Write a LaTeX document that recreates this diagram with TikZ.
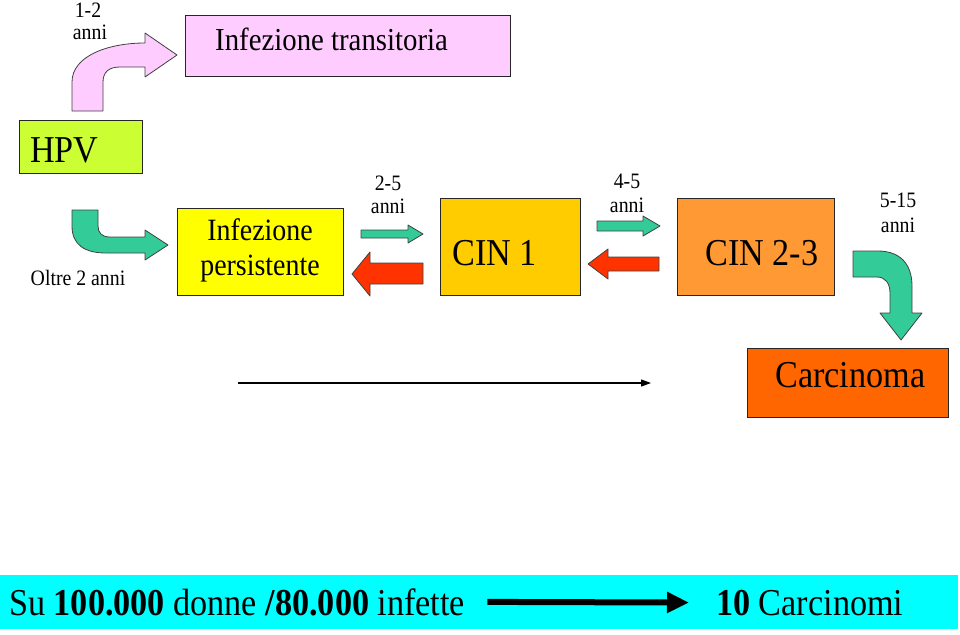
\documentclass[tikz,border=0pt]{standalone}
\usepackage{fontspec}
\setmainfont{Liberation Serif}[FakeStretch=0.9]
\usetikzlibrary{arrows.meta}
\definecolor{pinkf}{HTML}{FFCCFF}
\definecolor{limef}{HTML}{CCFF33}
\definecolor{yellowf}{HTML}{FFFF00}
\definecolor{cinone}{HTML}{FFCC00}
\definecolor{cintwo}{HTML}{FF9933}
\definecolor{carcf}{HTML}{FF6600}
\definecolor{greenf}{HTML}{33CC99}
\definecolor{redf}{HTML}{FF3300}
\definecolor{cyanf}{HTML}{00FFFF}
\tikzset{
  box/.style={draw=black!85, line width=1.2pt, inner sep=0pt, anchor=north west},
  blk/.style={draw=black!75, line width=0.8pt, line join=round},
  small/.style={inner sep=0pt, anchor=base, font=\fontsize{22}{26}\selectfont},
  big/.style={inner sep=0pt, anchor=base west, font=\fontsize{38}{44}\selectfont},
}
\begin{document}
\begin{tikzpicture}[x=1pt,y=-1pt]
\useasboundingbox (0,0) rectangle (960,634);
% boxes
\node[box, fill=pinkf, minimum width=325pt, minimum height=61pt] (trans) at (185,15) {};
\node[box, fill=limef, minimum width=123pt, minimum height=53pt] (hpv) at (19,120) {};
\node[box, fill=yellowf, minimum width=166pt, minimum height=87pt] (pers) at (177,208) {};
\node[box, fill=cinone, minimum width=140pt, minimum height=97pt] (cin1) at (440,198) {};
\node[box, fill=cintwo, minimum width=157pt, minimum height=97pt] (cin23) at (677,198) {};
\node[box, fill=carcf, minimum width=201pt, minimum height=69pt] (carc) at (747,348) {};
\node[draw=none, fill=cyanf, inner sep=0pt, anchor=north west, minimum width=958pt, minimum height=54pt] (bar) at (0,575) {};
% box texts
\node[inner sep=0pt, anchor=base west, font=\fontsize{32}{38}\selectfont] (transt) at (215,51) {Infezione transitoria};
\node[big] (hpvt) at (30,162) {HPV};
\node[inner sep=0pt, align=center, font=\fontsize{31}{35}\selectfont] (perst) at (260,250) {Infezione\\persistente};
\node[big] (cin1t) at (452,265) {CIN 1};
\node[big] (cin23t) at (705,265) {CIN 2-3};
\node[big] (carct) at (775,387) {Carcinoma};
% small labels
\node[small] (l12a) at (88,18) {1-2};
\node[small] (l12b) at (90,40) {anni};
\node[small] (oltre) at (78,285) {Oltre 2 anni};
\node[small] (l25a) at (388,190) {2-5};
\node[small] (l25b) at (388,213) {anni};
\node[small] (l45a) at (627,188) {4-5};
\node[small] (l45b) at (627,212) {anni};
\node[small] (l515a) at (898,207) {5-15};
\node[small] (l515b) at (898,232) {anni};
% pink bent arrow
\draw[blk, fill=pinkf] (72,111) -- (72,82) .. controls (72,56) and (108,43) .. (145,43) -- (145,33) -- (177,55) -- (145,77) -- (145,67) -- (120,67) .. controls (109,67) and (103,72) .. (103,82) -- (103,111) -- cycle;
% green bent arrow 1
\draw[blk, fill=greenf] (72,210) -- (72,226) .. controls (72,245) and (85,253) .. (106,253) -- (145,253) -- (145,260) -- (168,245) -- (145,230) -- (145,237) -- (110,237) .. controls (102,237) and (98,233) .. (98,226) -- (98,210) -- cycle;
% green bent arrow 3
\draw[blk, fill=greenf] (853,251) -- (878,251) .. controls (899,251) and (912,263) .. (912,286) -- (912,313) -- (922,313) -- (901,340) -- (880,313) -- (890,313) -- (890,293) .. controls (890,283) and (885,277) .. (877,277) -- (853,277) -- cycle;
% straight block arrows
\draw[blk, fill=greenf] (361,230) -- (408,230) -- (408,225) -- (423,234) -- (408,243) -- (408,238) -- (361,238) -- cycle;
\draw[blk, fill=redf] (423,263) -- (370,263) -- (370,252) -- (352,274) -- (370,296) -- (370,284) -- (423,284) -- cycle;
\draw[blk, fill=greenf] (597,221) -- (643,221) -- (643,216) -- (660,226) -- (643,236) -- (643,231) -- (597,231) -- cycle;
\draw[blk, fill=redf] (659,257) -- (608,257) -- (608,249) -- (588,264) -- (608,279) -- (608,271) -- (659,271) -- cycle;
% long thin arrow
\coordinate (la) at (238,383);
\coordinate (lb) at (651,383);
\draw[line width=1.2pt, -{Triangle[length=10pt,width=7pt]}] (la) -- (lb);
% bottom text
\node[big] (sut) at (9,615) {Su \textbf{100.000} donne \textbf{/80.000} infette};
\node[big] (tent) at (716,615) {\textbf{10} Carcinomi};
\draw[line width=6pt, -{Triangle[length=22pt,width=20pt]}] ([xshift=22pt]sut.east) -- ([xshift=-27pt]tent.west);
\end{tikzpicture}
\end{document}
